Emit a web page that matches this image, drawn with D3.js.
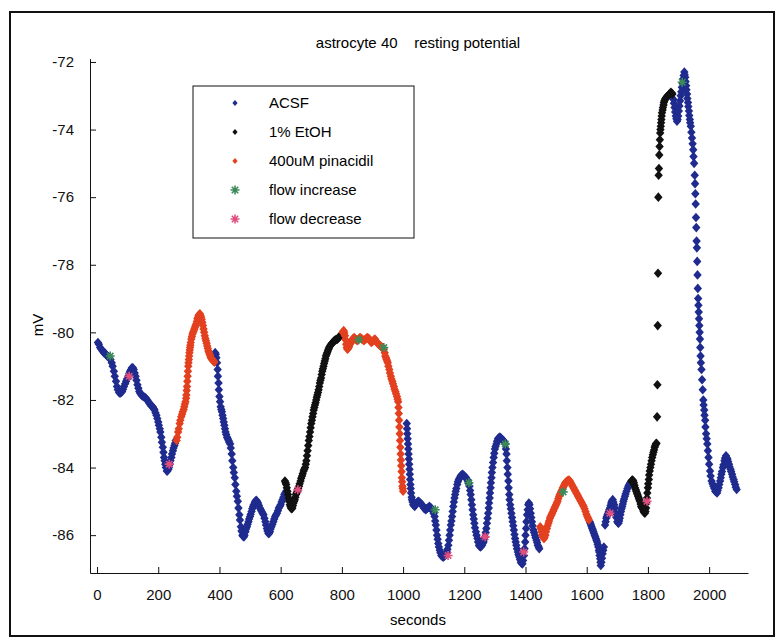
<!DOCTYPE html>
<html>
<head>
<meta charset="utf-8">
<script src="https://cdn.jsdelivr.net/npm/d3@7"></script>
<style>
body { margin: 0; background: #fff; }
svg { display: block; font-family: "Liberation Sans", Arial, sans-serif; }
</style>
</head>
<body>
<div id="chart"></div>
<script>
// readings: [seconds, mV]
var acsf = [
  [3,-80.3],[6,-80.35],[10,-80.45],[14,-80.5],[18,-80.55],[22,-80.6],[25,-80.6],[29,-80.65],[33,-80.7],[37,-80.72],
  [40,-80.75],[44,-80.8],[48,-80.9],[51,-81.0],[55,-81.15],[58,-81.3],[62,-81.45],[65,-81.6],[68,-81.7],[72,-81.78],
  [75,-81.8],[79,-81.78],[82,-81.75],[85,-81.68],[88,-81.6],[92,-81.52],[95,-81.45],[98,-81.38],[102,-81.3],[105,-81.22],
  [108,-81.15],[111,-81.1],[114,-81.05],[117,-81.05],[120,-81.1],[123,-81.2],[126,-81.3],[129,-81.42],[132,-81.55],[135,-81.65],
  [138,-81.75],[141,-81.8],[145,-81.85],[148,-81.88],[152,-81.9],[156,-81.92],[160,-81.95],[164,-82.0],[168,-82.05],[171,-82.1],
  [175,-82.15],[178,-82.18],[182,-82.2],[185,-82.25],[188,-82.3],[191,-82.38],[194,-82.45],[197,-82.55],[200,-82.65],[202,-82.75],
  [205,-82.85],[207,-82.95],[210,-83.1],[212,-83.25],[215,-83.4],[217,-83.55],[219,-83.7],[221,-83.8],[223,-83.9],[225,-84.0],
  [228,-84.1],[230,-84.1],[233,-84.05],[235,-84.0],[238,-83.9],[240,-83.8],[243,-83.7],[245,-83.6],[248,-83.5],[250,-83.42],
  [253,-83.35],[255,-83.28],[257,-83.2],
  [386,-80.6],[388,-80.65],[390,-80.75],[392,-80.9],[394,-81.1],[395,-81.3],[397,-81.5],[398,-81.7],[400,-81.9],[402,-82.05],
  [404,-82.2],[406,-82.28],[408,-82.35],[410,-82.45],[412,-82.55],[414,-82.65],[416,-82.75],[418,-82.85],[420,-82.95],[422,-83.02],
  [425,-83.1],[427,-83.15],[430,-83.2],[432,-83.25],[435,-83.3],[437,-83.42],[440,-83.6],[442,-83.8],[445,-84.0],[447,-84.15],
  [450,-84.3],[452,-84.5],[455,-84.7],[457,-84.85],[460,-85.0],[462,-85.2],[465,-85.4],[467,-85.55],[470,-85.75],[472,-85.88],
  [475,-86.0],[477,-86.03],[480,-86.05],[482,-86.0],[485,-85.9],[487,-85.82],[490,-85.75],[492,-85.68],[495,-85.6],[497,-85.52],
  [500,-85.45],[502,-85.38],[505,-85.3],[507,-85.22],[510,-85.15],[512,-85.1],[515,-85.05],[517,-85.0],[520,-84.97],[523,-85.0],
  [526,-85.05],[529,-85.12],[532,-85.2],[535,-85.25],[538,-85.3],[541,-85.35],[544,-85.4],[547,-85.5],[550,-85.6],[552,-85.7],
  [555,-85.8],[557,-85.88],[560,-85.95],[562,-85.95],[565,-85.9],[567,-85.82],[570,-85.75],[573,-85.68],[576,-85.6],[579,-85.52],
  [582,-85.45],[585,-85.4],[588,-85.35],[591,-85.28],[594,-85.2],[597,-85.15],[600,-85.1],[603,-85.02],[606,-84.95],[609,-84.88],
  [612,-84.8],[615,-84.75],[618,-84.7],
  [1012,-82.7],[1013,-82.85],[1014,-83.0],[1015,-83.15],[1016,-83.3],[1017,-83.45],[1018,-83.6],[1019,-83.75],[1020,-83.9],[1021,-84.05],
  [1022,-84.2],[1023,-84.35],[1024,-84.5],[1025,-84.62],[1026,-84.75],[1028,-84.88],[1029,-84.95],[1031,-85.02],[1033,-85.1],[1036,-85.12],
  [1038,-85.15],[1041,-85.1],[1044,-85.05],[1047,-85.02],[1050,-85.0],[1053,-85.02],[1056,-85.05],[1059,-85.08],[1062,-85.1],[1065,-85.15],
  [1068,-85.2],[1071,-85.22],[1074,-85.25],[1077,-85.22],[1080,-85.2],[1083,-85.18],[1086,-85.15],[1089,-85.18],[1092,-85.2],[1095,-85.25],
  [1098,-85.3],[1100,-85.36],[1103,-85.45],[1105,-85.58],[1107,-85.7],[1109,-85.85],[1111,-86.0],[1113,-86.12],[1115,-86.25],[1117,-86.35],
  [1120,-86.45],[1122,-86.52],[1125,-86.6],[1128,-86.63],[1131,-86.65],[1134,-86.63],[1137,-86.6],[1140,-86.55],[1143,-86.5],[1145,-86.42],
  [1148,-86.3],[1150,-86.15],[1152,-86.0],[1154,-85.85],[1156,-85.7],[1158,-85.58],[1160,-85.45],[1162,-85.3],[1164,-85.15],[1166,-85.02],
  [1168,-84.9],[1170,-84.8],[1172,-84.7],[1174,-84.62],[1177,-84.5],[1179,-84.42],[1182,-84.35],[1185,-84.3],[1188,-84.25],[1191,-84.22],
  [1194,-84.2],[1197,-84.22],[1200,-84.25],[1203,-84.28],[1206,-84.3],[1209,-84.35],[1212,-84.4],[1214,-84.47],[1217,-84.55],[1219,-84.68],
  [1221,-84.8],[1223,-84.95],[1225,-85.1],[1227,-85.25],[1229,-85.4],[1231,-85.52],[1233,-85.65],[1235,-85.78],[1238,-85.9],[1240,-86.0],
  [1243,-86.1],[1245,-86.2],[1248,-86.3],[1250,-86.33],[1253,-86.35],[1255,-86.33],[1258,-86.3],[1260,-86.25],[1263,-86.2],[1265,-86.12],
  [1268,-86.05],[1270,-85.92],[1272,-85.8],[1274,-85.65],[1276,-85.5],[1278,-85.35],[1280,-85.2],[1281,-85.05],[1283,-84.9],[1284,-84.75],
  [1286,-84.6],[1287,-84.45],[1289,-84.3],[1290,-84.15],[1292,-84.0],[1294,-83.85],[1296,-83.7],[1298,-83.58],[1300,-83.45],[1302,-83.38],
  [1305,-83.3],[1307,-83.22],[1310,-83.15],[1313,-83.12],[1316,-83.1],[1319,-83.12],[1322,-83.15],[1325,-83.18],[1328,-83.2],[1331,-83.25],
  [1334,-83.3],[1336,-83.45],[1338,-83.6],[1339,-83.8],[1341,-84.0],[1342,-84.2],[1344,-84.4],[1345,-84.6],[1347,-84.8],[1348,-84.95],
  [1350,-85.1],[1352,-85.22],[1354,-85.35],[1356,-85.48],[1358,-85.6],[1360,-85.72],[1362,-85.85],[1364,-85.98],[1366,-86.1],[1368,-86.2],
  [1370,-86.3],[1372,-86.4],[1375,-86.5],[1377,-86.58],[1380,-86.65],[1382,-86.72],[1385,-86.8],[1387,-86.83],[1390,-86.85],[1392,-86.75],
  [1395,-86.6],[1397,-86.4],[1399,-86.2],[1400,-86.0],[1402,-85.8],[1403,-85.6],[1405,-85.4],[1407,-85.25],[1409,-85.1],[1411,-85.05],
  [1413,-85.1],[1415,-85.22],[1417,-85.35],[1419,-85.48],[1421,-85.6],[1423,-85.72],[1426,-85.85],[1428,-85.92],[1431,-86.0],[1433,-86.08],
  [1436,-86.15],[1438,-86.22],[1440,-86.3],[1443,-86.35],[1445,-86.4],
  [1610,-85.6],[1612,-85.65],[1614,-85.7],[1616,-85.75],[1618,-85.8],[1620,-85.85],[1622,-85.9],[1624,-85.95],[1626,-86.0],[1628,-86.05],
  [1630,-86.1],[1632,-86.15],[1634,-86.2],[1636,-86.28],[1638,-86.35],[1640,-86.45],[1641,-86.5],[1642,-86.6],[1644,-86.7],[1645,-86.8],
  [1646,-86.9],[1648,-86.8],[1650,-86.68],[1652,-86.55],[1654,-86.45],[1656,-86.35],
  [1660,-85.7],[1662,-85.6],[1664,-85.5],[1666,-85.45],[1668,-85.4],[1670,-85.35],[1672,-85.3],[1674,-85.25],[1676,-85.2],[1678,-85.12],
  [1680,-85.05],[1682,-85.0],[1685,-84.95],[1687,-85.02],[1690,-85.1],[1692,-85.2],[1695,-85.35],[1697,-85.48],[1700,-85.6],[1702,-85.63],
  [1704,-85.65],[1706,-85.58],[1708,-85.5],[1710,-85.4],[1712,-85.3],[1714,-85.22],[1716,-85.15],[1718,-85.08],[1720,-85.0],[1722,-84.93],
  [1725,-84.85],[1727,-84.78],[1730,-84.7],[1733,-84.62],[1736,-84.55],[1739,-84.5],[1742,-84.45],
  [1883,-73.1],[1885,-73.22],[1887,-73.35],[1889,-73.48],[1891,-73.6],[1893,-73.68],[1895,-73.75],[1897,-73.7],[1899,-73.6],[1901,-73.45],
  [1903,-73.3],[1905,-73.15],[1907,-73.0],[1909,-72.88],[1911,-72.75],[1913,-72.62],[1915,-72.5],[1917,-72.4],[1919,-72.3],[1920,-72.38],
  [1922,-72.45],[1923,-72.58],[1925,-72.7],[1926,-72.82],[1928,-72.95],[1929,-73.08],[1931,-73.2],[1932,-73.32],[1934,-73.45],[1935,-73.58],
  [1937,-73.7],[1938,-73.8],[1940,-73.9],[1942,-74.08],[1944,-74.25],[1946,-74.42],[1948,-74.6],[1949,-74.8],[1951,-75.0],[1953,-75.35],
  [1954,-75.6],[1955,-75.9],[1956,-76.2],[1957,-76.6],[1958,-76.9],[1959,-77.3],[1960,-77.5],[1961,-77.9],[1962,-78.3],[1963,-78.7],
  [1964,-79.0],[1965,-79.2],[1966,-79.4],[1967,-79.6],[1968,-79.8],[1969,-80.0],[1970,-80.2],[1971,-80.45],[1972,-80.7],[1973,-80.9],
  [1975,-81.1],[1977,-81.4],[1979,-81.7],[1981,-82.0],[1982,-82.15],[1984,-82.3],[1985,-82.45],[1987,-82.6],[1988,-82.8],[1990,-83.0],
  [1992,-83.15],[1994,-83.3],[1996,-83.5],[1998,-83.7],[2000,-83.9],[2003,-84.1],[2005,-84.25],[2008,-84.4],[2011,-84.48],[2014,-84.55],
  [2017,-84.62],[2020,-84.7],[2023,-84.72],[2026,-84.75],[2028,-84.68],[2031,-84.6],[2033,-84.5],[2036,-84.4],[2038,-84.3],[2040,-84.2],
  [2042,-84.12],[2045,-84.0],[2047,-83.92],[2050,-83.8],[2052,-83.72],[2055,-83.65],[2057,-83.7],[2060,-83.75],[2062,-83.82],[2065,-83.9],
  [2067,-83.98],[2070,-84.05],[2072,-84.12],[2075,-84.2],[2077,-84.28],[2080,-84.35],[2082,-84.42],[2085,-84.5],[2087,-84.58],[2090,-84.65]
];

var etoh = [
  [614,-84.4],[616,-84.45],[618,-84.5],[620,-84.6],[622,-84.7],[624,-84.8],[626,-84.9],[628,-85.0],[630,-85.1],[632,-85.15],
  [634,-85.2],[636,-85.22],[638,-85.2],[640,-85.12],[642,-85.05],[644,-85.0],[646,-84.95],[648,-84.88],[650,-84.8],[652,-84.75],
  [655,-84.7],[657,-84.62],[660,-84.55],[662,-84.48],[665,-84.4],[667,-84.32],[670,-84.25],[672,-84.18],[675,-84.1],[677,-84.05],
  [680,-84.0],[682,-83.9],[684,-83.8],[686,-83.65],[688,-83.5],[690,-83.35],[692,-83.2],[694,-83.08],[696,-82.95],[698,-82.82],
  [700,-82.7],[702,-82.6],[704,-82.5],[706,-82.4],[708,-82.3],[710,-82.22],[712,-82.15],[714,-82.08],[716,-82.0],[718,-81.92],
  [720,-81.85],[722,-81.78],[724,-81.7],[726,-81.6],[728,-81.5],[730,-81.42],[732,-81.35],[734,-81.25],[736,-81.15],[738,-81.08],
  [740,-81.0],[742,-80.92],[744,-80.85],[746,-80.78],[748,-80.7],[750,-80.65],[752,-80.6],[754,-80.55],[756,-80.5],[758,-80.46],
  [760,-80.42],[763,-80.38],[765,-80.35],[768,-80.32],[770,-80.3],[773,-80.27],[775,-80.25],[778,-80.23],[780,-80.22],[783,-80.21],
  [785,-80.2],[788,-80.17],[790,-80.15],[793,-80.12],[795,-80.1],[798,-80.07],[800,-80.05],
  [1746,-84.4],[1748,-84.38],[1750,-84.37],[1752,-84.4],[1754,-84.45],[1756,-84.52],[1758,-84.6],[1760,-84.65],[1762,-84.7],[1764,-84.75],
  [1766,-84.8],[1768,-84.85],[1770,-84.9],[1772,-84.95],[1774,-85.0],[1776,-85.08],[1778,-85.15],[1780,-85.18],[1782,-85.2],[1784,-85.25],
  [1786,-85.3],[1788,-85.33],[1790,-85.35],[1792,-85.3],[1794,-85.2],[1795,-85.05],[1797,-84.9],[1798,-84.75],[1800,-84.6],[1801,-84.48],
  [1803,-84.35],[1804,-84.22],[1806,-84.1],[1808,-84.0],[1810,-83.9],[1812,-83.8],[1814,-83.7],[1816,-83.62],[1818,-83.55],[1820,-83.48],
  [1822,-83.4],[1824,-83.35],[1826,-83.3],[1828,-83.28],[1830,-82.5],[1831,-81.55],[1832,-79.8],[1833,-78.25],[1834,-76.0],[1835,-75.35],
  [1836,-75.15],[1837,-74.75],[1838,-74.5],[1839,-74.3],[1840,-74.1],[1841,-74.0],[1842,-73.9],[1843,-73.8],[1844,-73.7],[1845,-73.6],
  [1846,-73.5],[1848,-73.42],[1849,-73.35],[1851,-73.27],[1852,-73.2],[1854,-73.15],[1856,-73.1],[1858,-73.07],[1860,-73.05],[1863,-73.02],
  [1865,-73.0],[1868,-72.97],[1870,-72.95],[1873,-72.92],[1875,-72.9],[1878,-72.92],[1880,-72.95]
];

var pina = [
  [260,-83.2],[262,-83.1],[265,-82.95],[267,-82.85],[270,-82.7],[272,-82.6],[275,-82.5],[278,-82.42],[280,-82.35],[283,-82.28],
  [285,-82.2],[287,-82.12],[289,-82.05],[291,-81.95],[292,-81.85],[293,-81.72],[294,-81.6],[295,-81.45],[296,-81.3],[297,-81.15],
  [298,-81.0],[299,-80.9],[300,-80.8],[301,-80.7],[302,-80.6],[303,-80.52],[304,-80.45],[305,-80.38],[306,-80.3],[308,-80.2],
  [310,-80.12],[312,-80.05],[314,-80.0],[316,-79.95],[318,-79.9],[320,-79.85],[322,-79.8],[324,-79.75],[326,-79.68],[328,-79.6],
  [330,-79.55],[332,-79.5],[334,-79.47],[336,-79.45],[338,-79.5],[340,-79.55],[342,-79.62],[344,-79.7],[346,-79.8],[348,-79.9],
  [350,-80.0],[352,-80.1],[354,-80.18],[356,-80.25],[358,-80.32],[360,-80.4],[362,-80.48],[364,-80.55],[366,-80.6],[368,-80.65],
  [370,-80.7],[372,-80.75],[374,-80.78],[376,-80.8],[378,-80.82],[380,-80.85],[383,-80.88],
  [803,-80.0],[805,-79.97],[806,-79.95],[808,-80.02],[810,-80.1],[812,-80.22],[814,-80.35],[816,-80.45],[818,-80.5],[820,-80.48],
  [822,-80.45],[824,-80.4],[826,-80.35],[828,-80.32],[830,-80.3],[833,-80.25],[835,-80.2],[838,-80.18],[840,-80.15],[843,-80.18],
  [845,-80.2],[848,-80.22],[850,-80.25],[853,-80.22],[855,-80.2],[858,-80.17],[860,-80.15],[863,-80.18],[866,-80.2],[869,-80.22],
  [872,-80.25],[875,-80.22],[878,-80.2],[881,-80.17],[884,-80.15],[887,-80.18],[890,-80.2],[893,-80.25],[896,-80.3],[899,-80.28],
  [902,-80.25],[905,-80.22],[908,-80.2],[911,-80.25],[914,-80.3],[917,-80.32],[920,-80.35],[923,-80.38],[926,-80.4],[929,-80.42],
  [932,-80.45],[935,-80.48],[937,-80.5],[940,-80.6],[942,-80.7],[944,-80.75],[946,-80.8],[948,-80.85],[950,-80.9],[952,-81.0],
  [955,-81.1],[957,-81.2],[960,-81.3],[962,-81.38],[965,-81.45],[967,-81.52],[970,-81.6],[972,-81.68],[975,-81.75],[977,-81.82],
  [980,-81.9],[982,-81.98],[984,-82.05],[985,-82.22],[986,-82.4],[987,-82.6],[988,-82.8],[989,-83.0],[990,-83.2],[991,-83.4],
  [992,-83.6],[993,-83.78],[994,-83.95],[995,-84.12],[996,-84.3],[997,-84.42],[998,-84.55],[999,-84.62],[1000,-84.7],
  [1448,-85.75],[1450,-85.8],[1452,-85.9],[1455,-86.0],[1457,-86.05],[1460,-86.1],[1462,-86.08],[1465,-86.0],[1467,-85.9],[1470,-85.8],
  [1472,-85.72],[1475,-85.65],[1477,-85.58],[1480,-85.5],[1482,-85.45],[1485,-85.4],[1487,-85.35],[1490,-85.3],[1492,-85.25],[1495,-85.2],
  [1497,-85.15],[1500,-85.1],[1502,-85.05],[1505,-85.0],[1507,-84.92],[1510,-84.85],[1512,-84.8],[1515,-84.75],[1517,-84.7],[1520,-84.65],
  [1522,-84.6],[1525,-84.55],[1527,-84.5],[1530,-84.45],[1533,-84.42],[1536,-84.4],[1539,-84.38],[1542,-84.37],[1545,-84.4],[1548,-84.45],
  [1551,-84.5],[1554,-84.55],[1557,-84.6],[1560,-84.65],[1563,-84.7],[1566,-84.75],[1569,-84.8],[1572,-84.85],[1575,-84.9],[1578,-84.95],
  [1581,-85.0],[1584,-85.05],[1587,-85.1],[1590,-85.15],[1593,-85.22],[1596,-85.3],[1599,-85.38],[1602,-85.45],[1605,-85.5],[1607,-85.55]
];

var flowUp = [[43,-80.7],[855,-80.22],[937,-80.45],[1105,-85.25],[1215,-84.45],[1334,-83.3],[1523,-84.72],[1912,-72.6]];
var flowDown = [[105,-81.3],[236,-83.9],[656,-84.66],[1147,-86.6],[1268,-86.05],[1394,-86.5],[1676,-85.35],[1797,-85.0]];

var xTicks = [0, 200, 400, 600, 800, 1000, 1200, 1400, 1600, 1800, 2000];
var yTicks = [-72, -74, -76, -78, -80, -82, -84, -86];

var legendNames = ["ACSF", "1% EtOH", "400uM pinacidil", "flow increase", "flow decrease"];
var colors = {acsf: "#1f2b8e", etoh: "#111111", pina: "#e3401f", up: "#3b8a58", down: "#e04f7e"};

var W = 777, H = 641;

var svg = d3.select("#chart")
    .append("svg")
        .attr("width", W)
        .attr("height", H);

// outer frame of the figure
svg.append("rect")
    .attr("x", 10).attr("y", 12)
    .attr("width", 764).attr("height", 624)
    .attr("fill", "none")
    .attr("stroke", "#111")
    .attr("stroke-width", 2);

var x = d3.scaleLinear()
        .domain([-23, 2127])
        .range([90, 748]);

var y = d3.scaleLinear()
        .domain([-87.12, -71.9])
        .range([573, 58.6]);

svg.append("g")
    .attr("transform", "translate(0," + y.range()[0] + ")")
    .call(d3.axisBottom(x).tickValues(xTicks).tickSize(-6).tickSizeOuter(0).tickPadding(16).tickFormat(function(d) { return String(d); }));

svg.append("g")
    .attr("transform", "translate(" + x.range()[0] + ",0)")
    .call(d3.axisLeft(y).tickValues(yTicks).tickSize(-6).tickSizeOuter(0).tickPadding(16).tickFormat(function(d) { return String(d); }));

svg.selectAll(".tick text")
    .attr("font-family", "Liberation Sans, Arial, sans-serif")
    .attr("font-size", 15)
    .attr("fill", "#111");
svg.selectAll(".domain, .tick line").attr("stroke", "#111");

var diamond = "M0,-4.8L4.2,0L0,4.8L-4.2,0Z";
var star = "M-4.5,0H4.5M0,-4.5V4.5M-3.2,-3.2L3.2,3.2M-3.2,3.2L3.2,-3.2";

function drawSeries(data, color) {
    svg.append("g")
        .selectAll("path")
        .data(data)
        .join("path")
            .attr("transform", function(d) { return "translate(" + x(d[0]) + "," + y(d[1]) + ")"; })
            .attr("d", diamond)
            .attr("fill", color);
}

function drawStars(data, color) {
    svg.append("g")
        .selectAll("path")
        .data(data)
        .join("path")
            .attr("transform", function(d) { return "translate(" + x(d[0]) + "," + y(d[1]) + ")"; })
            .attr("d", star)
            .attr("fill", "none")
            .attr("stroke", color)
            .attr("stroke-width", 1.6);
}

drawSeries(acsf, colors.acsf);
drawSeries(etoh, colors.etoh);
drawSeries(pina, colors.pina);
drawStars(flowUp, colors.up);
drawStars(flowDown, colors.down);

// title and axis labels
svg.append("text")
    .attr("x", 418).attr("y", 48)
    .attr("text-anchor", "middle")
    .attr("font-size", 15)
    .style("white-space", "pre")
    .text("astrocyte 40    resting potential");

svg.append("text")
    .attr("x", 418).attr("y", 625)
    .attr("text-anchor", "middle")
    .attr("font-size", 15)
    .text("seconds");

svg.append("text")
    .attr("transform", "translate(43,325) rotate(-90)")
    .attr("text-anchor", "middle")
    .attr("font-size", 15)
    .text("mV");

// legend
var legend = svg.append("g").attr("transform", "translate(193,86)");
legend.append("rect")
    .attr("width", 221).attr("height", 152)
    .attr("fill", "#fff")
    .attr("stroke", "#111");

var legendColors = [colors.acsf, colors.etoh, colors.pina, colors.up, colors.down];
var row = d3.scalePoint().domain(legendNames).range([17, 133]);

legendNames.forEach(function(name, i) {
    var g = legend.append("g").attr("transform", "translate(42," + row(name) + ")");
    if (i < 3) {
        g.append("path").attr("d", "M0,-3L2.6,0L0,3L-2.6,0Z").attr("fill", legendColors[i]);
    } else {
        g.append("path").attr("d", star).attr("fill", "none").attr("stroke", legendColors[i]).attr("stroke-width", 1.6);
    }
    legend.append("text")
        .attr("x", 76).attr("y", row(name) + 5)
        .attr("font-size", 15)
        .text(name);
});
</script>
</body>
</html>
